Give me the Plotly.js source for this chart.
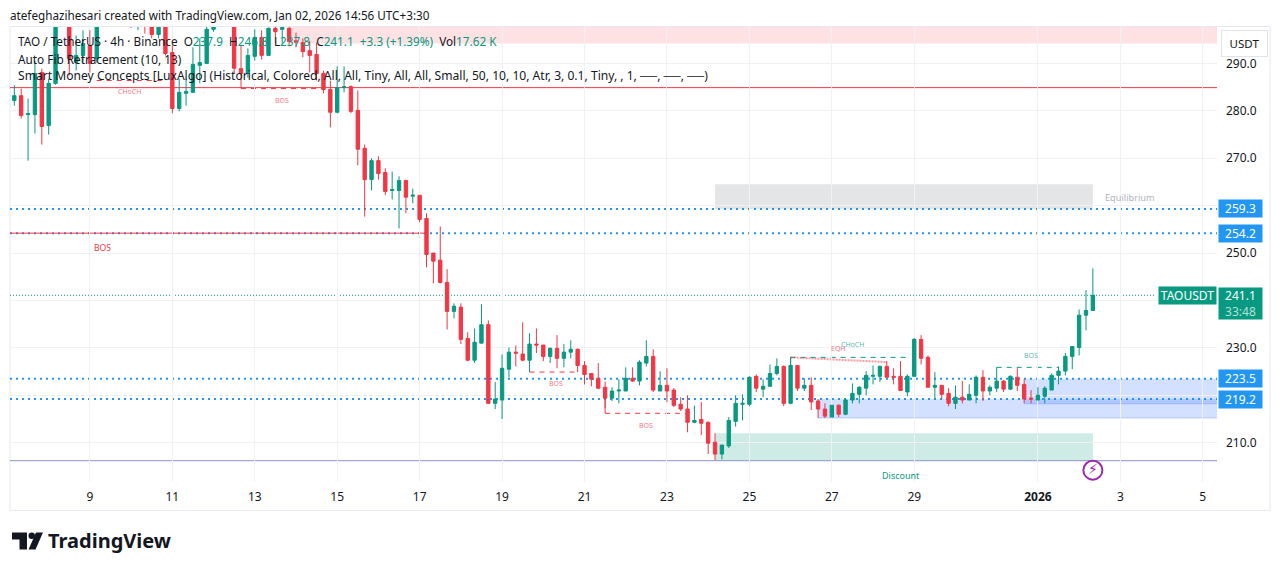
<!DOCTYPE html>
<html><head><meta charset="utf-8">
<script src="https://cdn.plot.ly/plotly-3.0.1.min.js"></script>
<style>html,body{margin:0;padding:0;background:#fff;overflow:hidden}#c{width:1281px;height:571px}</style>
</head><body><div id="c"></div>
<script>
const open=[282.2,283.2,279.2,279.2,288.1,276.9,285.8,301,303,290.2,
291.7,293.8,291,300,303,301,303,301,299.5,301,
299,296.1,299,292.3,280.5,283.7,283.9,289.6,290.0,297.2,
298,300,300,288.9,287.9,291.5,295.5,291.7,297.4,297.2,
297.4,294.8,294.4,292.7,291.9,287.9,284.5,279.7,284.9,285.1,
280.1,272.1,265.5,269.5,267.0,263.2,263.2,265.3,262.0,262.2,
257.3,250.0,248.5,243.8,237.7,238.6,232.0,227.4,231.0,234.9,
218.3,219.0,225.5,229.1,228.7,227.4,230.8,230.6,228.2,229.9,
227.8,229.1,229.7,226.3,224.6,223.6,221.7,219.4,220.9,220.9,
223.6,223.0,226.8,228.2,220.9,222.1,221.1,218.1,217.1,214.3,
214.9,214.3,210.1,207.6,209.3,214.5,218.1,218.1,224.0,221.3,
221.9,224.6,226.1,218.3,226.3,221.5,222.1,218.8,217.1,215.4,
217.9,216.0,219.0,220.2,221.5,224.0,224.0,226.1,224.0,224.0,
220.7,224.0,231.8,228.0,221.7,222.1,220.4,218.3,219.6,219.0,
220.0,223.8,220.9,221.5,223.0,221.3,223.8,222.3,219.4,219.0,
219.8,221.1,224.2,225.1,228.2,230.1,236.9,237.9];
const high=[285.4,284.7,282.6,290.6,288.9,286.8,303,305,304,295.9,
297.0,297.0,302,305,304,304,304,302,302,302,
300,300,300,293.8,286.8,286.8,293.4,295.3,298,299,
302,301,301,293.8,293.2,297.2,297.0,297.6,297.8,297.8,
297.8,296.5,295.3,294.8,294.4,288.5,286.4,289.4,289.4,285.4,
284.3,272.9,270.0,270.4,267.9,267.2,266.2,265.5,263.6,262.2,
258.4,250.0,255.6,246.6,239.4,239.4,233.3,234.1,239.2,235.8,
222.8,228.6,230.1,230.5,235.4,233.1,234.1,230.6,230.1,232.7,
230.8,231.6,229.9,227.2,224.7,226.8,222.9,221.7,223.4,225.9,
225.9,227.4,231.6,229.7,225.1,225.7,221.5,219.6,220.0,217.8,
218.6,214.5,212.0,209.5,215.4,220.0,220.2,224.0,224.4,223.4,
226.5,227.8,226.3,228.0,226.3,223.6,223.8,219.2,218.3,217.9,
218.1,219.4,222.5,221.9,225.1,226.3,226.3,227.2,225.7,227.2,
224.4,232.1,232.7,228.4,224.9,222.1,221.5,222.1,223.0,222.3,
224.2,225.3,222.1,225.9,223.2,224.2,225.7,223.4,221.1,221.7,
221.9,224.6,226.1,228.9,230.3,238.1,242.2,246.8];
const low=[281.1,278.4,269.5,275.2,272.9,275.0,285.5,298.5,287.5,288.5,
290.2,288.1,290.2,299,299.5,300,299,297.5,297,296.3,
295.3,295.3,291.7,279.5,279.9,281.1,283.9,285.8,290.0,296.7,
298,297.8,287.9,284.7,287.0,290.6,290.8,291.7,294.2,294.2,
293.6,293.4,291.3,288.1,286.4,283.7,276.5,279.5,283.9,279.5,
268.5,257.7,263.2,265.5,262.2,261.3,255.2,258.4,260.5,256.5,
247.0,243.6,243.6,233.9,236.2,230.8,227.2,226.8,231.0,218.3,
217.1,215.0,223.8,226.1,227.2,224.9,228.9,227.2,226.8,225.7,
225.9,227.8,226.3,222.3,221.9,221.3,217.3,218.8,218.3,220.9,
222.8,222.1,226.1,220.7,220.9,218.6,217.5,216.7,212.2,214.1,
211.6,207.6,206.3,206.5,208.9,213.4,214.7,217.7,220.7,219.6,
221.9,224.2,217.7,218.1,220.9,220.9,216.9,215.2,215.2,215.4,
215.4,215.8,218.3,218.3,220.0,222.3,222.8,223.8,222.3,221.0,
219.8,224.0,226.5,221.7,219.2,219.2,217.7,217.1,218.3,219.0,
218.3,218.8,220.0,220.7,220.7,221.1,220.9,218.3,218.3,219.0,
218.3,221.1,222.3,224.2,225.5,228.4,233.7,237.8];
const close=[283.2,279.0,279.4,287.9,276.7,285.8,301,303,291.0,291.7,
294.2,290.0,300,303,301,303,301,299.5,301,299,
296.1,299,292.1,280.5,283.9,284.1,289.8,290.2,297.2,298,
300,298,289.0,287.9,291.7,295.5,291.7,297.4,296.7,297.6,
294.6,294.5,292.5,291.7,287.9,284.5,279.7,284.9,285.1,279.9,
271.9,265.5,269.5,266.8,263.0,263.4,265.3,261.8,262.2,257.1,
249.7,248.3,243.8,237.7,238.8,231.8,227.4,231.2,234.9,218.3,
219.2,225.7,229.1,228.9,227.4,230.8,230.6,228.2,229.9,227.8,
229.1,229.7,226.3,224.4,223.4,221.5,219.4,220.9,221.1,223.6,
223.0,227.0,228.2,221.1,222.1,220.9,217.9,217.1,214.3,214.7,
214.1,209.9,207.6,209.5,214.7,218.3,218.3,223.8,221.5,221.9,
224.6,226.1,218.3,226.3,221.5,222.1,218.6,217.1,215.6,217.9,
216.0,219.0,220.4,221.7,224.2,224.2,226.1,223.8,223.8,221.0,
224.0,231.8,227.8,221.7,222.1,220.2,218.3,219.6,219.0,220.2,
223.8,220.9,221.7,223.0,221.3,224.0,222.1,219.2,219.2,220.0,
221.5,224.2,225.1,228.2,230.3,236.9,237.9,241.1];
const candleIndex=open.map((_,i)=>i);

const xTickIndex=[11,23,35,47,59,71,83,95,107,119,131,149,161,173];
const xTickLabels=['9','11','13','15','17','19','21','23','25','27','29','<b>2026</b>','3','5'];
const yGrid=[210,220,230,240,250,260,270,280,290];
const yTickLabels=['210.0','','230.0','','250.0','','270.0','280.0','290.0'];

const dottedLevels=[259.3,254.2,223.5,219.2];
const lastPrice=241.1;
const fibHigh=284.9, fibLow=206.2, bosSolid=254.2;

const RED='#f23645',GREEN='#089981',BLUE='#2196f3';
const FONT='"Noto Sans",sans-serif', INK='#131722';
const X0=-0.63,X1=175.07;

const shapes=[];
const box=(x0,x1,y0,y1,fill)=>shapes.push({type:'rect',layer:'below',xref:'x',yref:'y',x0,x1,y0,y1,fillcolor:fill,line:{width:0}});
const seg=(x0,x1,y0,y1,color,width,dash)=>shapes.push({type:'line',layer:'below',xref:'x',yref:'y',x0,x1,y0,y1,line:{color,width,dash:dash||'solid'}});

box(40,X1,294.2,299,'rgba(242,54,69,0.15)');
box(102,157,259.3,264.5,'rgba(120,123,134,0.2)');
box(102,157,206.2,212,'rgba(8,153,129,0.2)');
box(117,X1,215.2,219.2,'rgba(41,98,255,0.2)');
box(147,X1,218.2,223.5,'rgba(41,98,255,0.2)');
seg(117,X1,215.2,215.2,'rgba(41,98,255,0.25)',1);
seg(147,X1,218.2,218.2,'rgba(41,98,255,0.25)',1);

dottedLevels.forEach(v=>seg(X0,X1,v,v,BLUE,2,'2px,4px'));
seg(X0,X1,fibHigh,fibHigh,RED,1);
seg(X0,60,bosSolid,bosSolid,RED,1);
seg(X0,X1,fibLow,fibLow,'#8b93c4',1);
seg(X0,166,lastPrice,lastPrice,GREEN,1,'1px,2px');

// market-structure dashed lines
const structX0=[12,33,75,86,113,143];
const structX1=[22,45,82,98,130,152];
const structLevel=[286.4,284.7,224.9,216.2,228.0,225.9];
const structColor=[RED,RED,RED,RED,GREEN,GREEN];
structX0.forEach((x,i)=>seg(x,structX1[i],structLevel[i],structLevel[i],structColor[i],1,'5px,5px'));
seg(82,82,224.9,226.3,RED,1); seg(86,86,216.2,219.4,RED,1); seg(98,98,216.2,214.3,RED,1);
seg(113,113,228,226.3,GREEN,1); seg(152,152,225.9,225.1,GREEN,1);
seg(113,127,228.0,227.0,'rgba(242,54,69,0.5)',2,'2px,1px');

// chart-frame in pixel units
const px=x=>(x-10)/1207, py=y=>(482.5-y)/455.5;
shapes.push({type:'rect',xref:'paper',yref:'paper',x0:px(10),x1:px(1270),y0:py(511),y1:py(26.5),line:{color:'#e6e8ee',width:1},fillcolor:'rgba(0,0,0,0)',layer:'below'});
// TradingView logo
const poly=pts=>'M'+pts.map(p=>px(p[0])+','+py(p[1])).join('L')+'Z';
[[[12,533],[27,533],[27,550],[19.5,550],[19.5,540],[12,540]],
 [[28.5,550],[36,533],[43,533],[35.5,550]]].forEach(p=>shapes.push({type:'path',xref:'paper',yref:'paper',path:poly(p),fillcolor:INK,line:{width:0}}));
shapes.push({type:'circle',xref:'paper',yref:'paper',x0:px(28.5),x1:px(35),y0:py(539.5),y1:py(533),fillcolor:INK,line:{width:0}});

// small chart labels
const labelText=['CHoCH','BOS','BOS','BOS','BOS','EQH','CHoCH','BOS','Discount','Equilibrium'];
const labelX=[16.8,39,12.9,78.9,92,119.9,122,148,129,162.4];
const labelY=[284.1,282.2,251.0,222.4,213.7,229.9,230.7,228.4,203.0,261.8];
const labelSize=[7,7,8.6,7,7,7,7,7,9,9.2];
const PINK='rgba(242,54,69,.7)',MINT='rgba(8,153,129,.7)';
const labelColor=[PINK,PINK,RED,PINK,PINK,PINK,MINT,MINT,GREEN,'#b2b5be'];
const ann=labelText.map((t,i)=>({text:t,x:labelX[i],y:labelY[i],xref:'x',yref:'y',showarrow:false,xanchor:'center',yanchor:'middle',font:{family:FONT,size:labelSize[i],color:labelColor[i]}}));

const txt=(x,y,text,size)=>({text,x:px(x-2),y:py(y),xref:'paper',yref:'paper',xanchor:'left',yanchor:'middle',showarrow:false,font:{family:FONT,size:size||12,color:INK}});
const g=s=>'<span style="color:'+GREEN+'">'+s+'</span>';
ann.push(txt(10,15,'atefeghazihesari created with TradingView.com, Jan 02, 2026 14:56 UTC+3:30',11.7));
ann.push(txt(18,41,'TAO / TetherUS · 4h · Binance  O'+g('237.9')+'  H'+g('246.8')+'  L'+g('237.8')+'  C'+g('241.1')+'  '+g('+3.3 (+1.39%)')+'  Vol'+g('17.62 K'),11.75));
ann.push(txt(18,59,'Auto Fib Retracement (10, 13)',11.8));
ann.push(txt(18,76,'Smart Money Concepts [LuxAlgo] (Historical, Colored, All, All, Tiny, All, All, Small, 50, 10, 10, Atr, 3, 0.1, Tiny, , 1, ──, ──, ──)',12.1));
ann.push(txt(48,541,'<b>TradingView</b>',20));

// price tags
const tag=(v,t,bg)=>({text:t,x:px(1218),y:v,xref:'paper',yref:'y',xanchor:'left',yanchor:'middle',showarrow:false,width:43,height:17,align:'center',bgcolor:bg,borderpad:0,font:{family:FONT,size:12,color:'#fff'}});
dottedLevels.forEach(v=>ann.push(tag(v,v.toFixed(1),BLUE)));
ann.push({text:'241.1<br><span style="color:#b5e0d8">33:48</span>',x:px(1218),y:lastPrice,yshift:8.5,xref:'paper',yref:'y',xanchor:'left',yanchor:'top',showarrow:false,width:43,height:31,align:'center',bgcolor:GREEN,borderpad:0,font:{family:FONT,size:12,color:'#fff'}});
ann.push({text:'TAOUSDT',x:px(1217),y:lastPrice,xref:'paper',yref:'y',xanchor:'right',yanchor:'middle',showarrow:false,width:57,height:17,align:'center',bgcolor:GREEN,borderpad:0,font:{family:FONT,size:12,color:'#fff'}});
ann.push({text:'USDT',x:px(1221),y:py(44),xref:'paper',yref:'paper',xanchor:'left',yanchor:'middle',showarrow:false,width:45,height:25,align:'center',bgcolor:'#fff',bordercolor:'#e0e3eb',borderwidth:1,borderpad:0,font:{family:FONT,size:11.5,color:INK}});

const traces=[{
  type:'candlestick',x:candleIndex,open,high,low,close,width:0.65,whiskerwidth:0,
  increasing:{line:{color:GREEN,width:1},fillcolor:GREEN},
  decreasing:{line:{color:RED,width:1},fillcolor:RED},showlegend:false,hoverinfo:'skip'
},{
  type:'scatter',mode:'markers+text',x:[157],y:[204.2],text:['⚡'],textposition:'middle center',
  textfont:{family:'DejaVu Sans',size:14,color:'#9c27b0'},
  marker:{size:19,color:'#fff',line:{color:'#9c27b0',width:2}},showlegend:false,hoverinfo:'skip'
}];

Plotly.newPlot('c',traces,{
  width:1281,height:571,showlegend:false,
  margin:{l:10,r:64,t:27,b:88.5,pad:0},
  paper_bgcolor:'#fff',plot_bgcolor:'#fff',
  xaxis:{type:'linear',range:[X0,X1],tickmode:'array',tickvals:xTickIndex,ticktext:xTickLabels,rangeslider:{visible:false},
    showgrid:true,gridcolor:'#eff1f4',gridwidth:1,zeroline:false,showline:false,ticks:'',ticklabelstandoff:6,tickfont:{family:FONT,size:12,color:INK}},
  yaxis:{side:'right',range:[201.71,297.69],tickmode:'array',tickvals:yGrid,ticktext:yTickLabels,
    showgrid:true,gridcolor:'#eff1f4',gridwidth:1,zeroline:false,showline:false,ticks:'',ticklabelstandoff:8,tickfont:{family:FONT,size:12,color:INK}},
  shapes,annotations:ann,dragmode:false
},{displayModeBar:false,staticPlot:true});
</script></body></html>
